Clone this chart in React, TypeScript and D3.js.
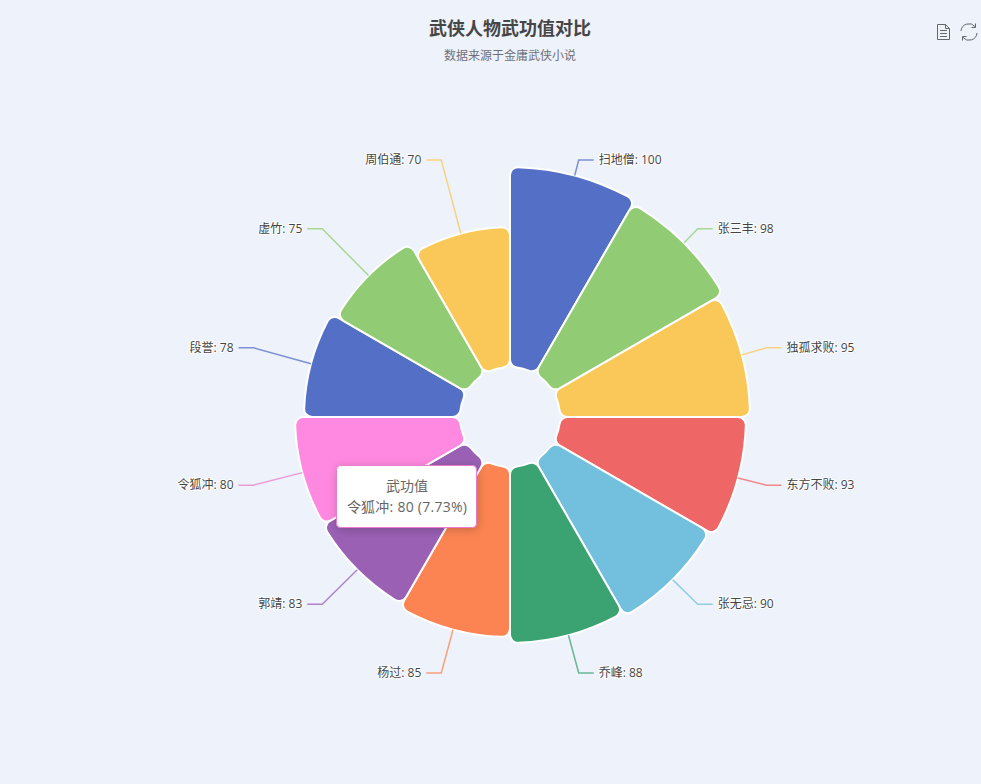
import React from "react";
import * as d3 from "d3";

const names = ["扫地僧", "张三丰", "独孤求败", "东方不败", "张无忌", "乔峰", "杨过", "郭靖", "令狐冲", "段誉", "虚竹", "周伯通"];
const values = [100, 98, 95, 93, 90, 88, 85, 83, 80, 78, 75, 70];
const palette = ["#5470c6", "#91cc75", "#fac858", "#ee6666", "#73c0de", "#3ba272", "#fc8452", "#9a60b4", "#ea7ccc"];
const hoveredIndex = 8;
const hoveredFill = "#ff88e0";
const total = d3.sum(values);

const W = 981, H = 784, cx = 510, cy = 417;
const rScale = d3.scaleLinear().domain([0, 100]).range([50, 250]);
const labelR = 265.5, hLen = 15, hoverGrow = 5;
const angle = d3.scaleLinear().domain([0, values.length]).range([0, Math.PI * 2]);
const arcGen = d3.arc<any>().cornerRadius(8);
const fontStack = "'Open Sans', 'Noto Sans CJK SC', sans-serif";

export default function App() {
  const tipIdx = hoveredIndex;
  return (
    <svg width={W} height={H} viewBox={`0 0 ${W} ${H}`} style={{ position: "absolute", left: 0, top: 0, background: "#eef2fb" }} fontFamily={fontStack}>
      <defs>
        <filter id="tipShadow" x="-20%" y="-20%" width="140%" height="150%">
          <feDropShadow dx="1" dy="2" stdDeviation="5" floodColor="#000" floodOpacity="0.2" />
        </filter>
      </defs>
      <text x={cx} y={35} textAnchor="middle" fontSize={18} fontWeight={700} fill="#464646" fontFamily="'Noto Sans CJK SC', sans-serif">武侠人物武功值对比</text>
      <text x={cx} y={59.5} textAnchor="middle" fontSize={12} fill="#6e7079" fontFamily="'Noto Sans CJK SC', sans-serif">数据来源于金庸武侠小说</text>

      <g fill="none" stroke="#666" strokeWidth={1}>
        <path d="M937.5 24.5H945.5L949.5 28.5V39.5H937.5Z M945.5 24.5V28.5H949.5 M940 30.5H947 M940 33.5H947 M940 36.5H947" />
        <path d="M961 31A8 8 0 0 1 975 26.5M977 33A8 8 0 0 1 963 37.5M975.5 23.5V27.5H971.5M962.5 40.5V36.5H966.5" />
      </g>

      {values.map((v, i) => {
        const a0 = angle(i), a1 = angle(i + 1);
        const outer = rScale(v) + (i === hoveredIndex ? hoverGrow : 0);
        const d = arcGen({ innerRadius: rScale.range()[0], outerRadius: outer, startAngle: a0, endAngle: a1 });
        return (
          <path key={names[i]} d={d as string} transform={`translate(${cx},${cy})`}
            fill={i === hoveredIndex ? hoveredFill : palette[i % palette.length]} stroke="#fff" strokeWidth={2} />
        );
      })}

      {values.map((v, i) => {
        const mid = (angle(i) + angle(i + 1)) / 2;
        const s = Math.sin(mid), c = Math.cos(mid);
        const outer = rScale(v) + (i === hoveredIndex ? hoverGrow : 0);
        const dir = s >= 0 ? 1 : -1;
        const ex = cx + labelR * s, ey = cy - 0.5 - labelR * c;
        const points: [number, number][] = [[cx + outer * s, cy - outer * c], [ex, ey], [ex + dir * hLen, ey]];
        return (
          <g key={names[i]}>
            <path d={d3.line()(points) as string} fill="none" stroke={palette[i % palette.length]} strokeWidth={1.5} strokeOpacity={0.75} />
            <text x={ex + dir * (hLen + 5)} y={ey - 0.5} dy="0.36em" textAnchor={dir > 0 ? "start" : "end"} fontSize={12} fill="#444"
              stroke="#fff" strokeWidth={2} strokeLinejoin="round" paintOrder="stroke">{`${names[i]}: ${v}`}</text>
          </g>
        );
      })}

      <g>
        <rect x={336.5} y={465.5} width={140} height={62} rx={4} fill="#fff" stroke={palette[tipIdx]} strokeWidth={1} filter="url(#tipShadow)" />
        <text x={407} y={491} textAnchor="middle" fontSize={14} fill="#666">武功值</text>
        <text x={407} y={512} textAnchor="middle" fontSize={14} letterSpacing={0.25} fill="#666">{`${names[tipIdx]}: ${values[tipIdx]} (${(values[tipIdx] / total * 100).toFixed(2)}%)`}</text>
      </g>
    </svg>
  );
}
